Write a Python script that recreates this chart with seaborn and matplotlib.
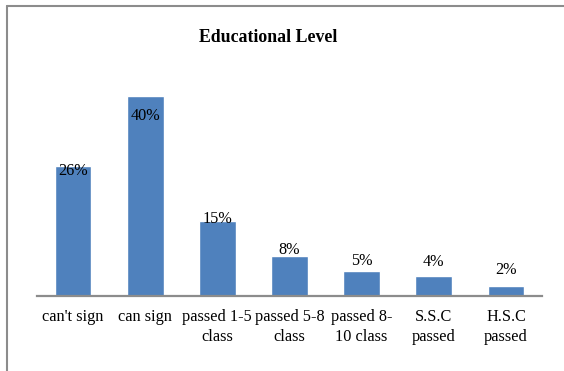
import matplotlib
matplotlib.use("Agg")
import matplotlib.pyplot as plt
from matplotlib.lines import Line2D
import seaborn as sns
import pandas as pd

# Survey result: share of respondents by educational level
categories = ["can't sign", "can sign", "passed 1-5\nclass", "passed 5-8\nclass",
              "passed 8-\n10 class", "S.S.C\npassed", "H.S.C\npassed"]
percent = [26, 40, 15, 8, 5, 4, 2]
# vertical nudge of each value label from its bar top (pixels, + = downward)
label_shift_px = [5, 20, -2, -6, -10, -14, -16]

sns.set_theme(style="white")
plt.rcParams["font.family"] = ["Liberation Serif", "DejaVu Serif"]

df = pd.DataFrame({"level": categories, "pct": percent})

W, H, DPI = 564, 371, 100
fig = plt.figure(figsize=(W / DPI, H / DPI), dpi=DPI)
ax = fig.add_axes([37 / W, (H - 296) / H, (542 - 37) / W, (296 - 76) / H])

sns.barplot(data=df, x="level", y="pct", color="#4F81BD", saturation=1,
            width=0.51, ax=ax)

ax.set_xlim(-0.5, len(categories) - 0.5)
ax.set_ylim(0, 44)
ax.set_xlabel("")
ax.set_ylabel("")
ax.set_yticks([])
for side in ["top", "right", "left"]:
    ax.spines[side].set_visible(False)
ax.spines["bottom"].set_color("#8c8c8c")
ax.spines["bottom"].set_linewidth(1.6)
ax.tick_params(axis="x", length=0, pad=9.5, labelsize=11.7, colors="black")
for lbl in ax.get_xticklabels():
    lbl.set_linespacing(1.35)

px_to_pt = 72 / DPI
for i, (v, s) in enumerate(zip(percent, label_shift_px)):
    ax.annotate(f"{v}%", (i, v), xytext=(0, -s * px_to_pt), textcoords="offset points",
                ha="center", va="center", fontsize=11.7, color="black")

fig.text(268 / W, 1 - 38 / H, "Educational Level", ha="center", va="center",
         fontsize=12.8, fontweight="bold", color="black")

# outer chart frame (top and left edges)
fig.add_artist(Line2D([7 / W, 1], [1 - 6 / H, 1 - 6 / H], color="#8c8c8c", lw=1.5,
                      transform=fig.transFigure))
fig.add_artist(Line2D([7 / W, 7 / W], [0, 1 - 6 / H], color="#8c8c8c", lw=1.5,
                      transform=fig.transFigure))

fig.savefig("out.png", dpi=DPI)
